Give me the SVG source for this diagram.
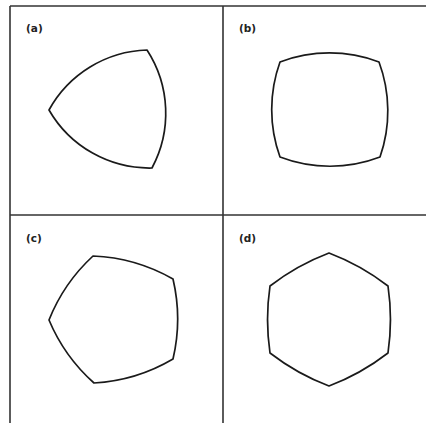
<svg xmlns="http://www.w3.org/2000/svg" width="426" height="423" viewBox="0 0 426 423">
<style>
.frame{stroke:#333;stroke-width:1.6;fill:none}
.shape{stroke:#1a1a1a;stroke-width:1.7;fill:none;stroke-linejoin:round}
.lbl{font-family:"DejaVu Sans",sans-serif;font-size:10.5px;font-weight:bold;fill:#222}
</style>
<rect width="426" height="423" fill="#fff"/>
<g id="frame">
<line class="frame" x1="10" y1="6" x2="426" y2="6"/>
<line class="frame" x1="10" y1="6" x2="10" y2="423"/>
<line class="frame" x1="223" y1="6" x2="223" y2="423"/>
<line class="frame" x1="10" y1="215" x2="426" y2="215"/>
</g>
<g id="panel-a">
<text class="lbl" x="26" y="32">(a)</text>
<path class="shape" d="M49,110 A116,116 0 0 1 147,50 A116,116 0 0 1 152,168 A116,116 0 0 1 49,110 Z"/>
</g>
<g id="panel-b">
<text class="lbl" x="239" y="32">(b)</text>
<path class="shape" d="M280,62 A140,140 0 0 1 379,62 A140,140 0 0 1 380,157 A140,140 0 0 1 280,157 A140,140 0 0 1 280,62 Z"/>
</g>
<g id="panel-c">
<text class="lbl" x="26" y="242">(c)</text>
<path class="shape" d="M49,320 A175,175 0 0 1 93,256 A175,175 0 0 1 173,279 A175,175 0 0 1 173,359 A175,175 0 0 1 94,383 A175,175 0 0 1 49,320 Z"/>
</g>
<g id="panel-d">
<text class="lbl" x="239" y="242">(d)</text>
<path class="shape" d="M329,253 A230,230 0 0 1 388,286 A230,230 0 0 1 388,353 A230,230 0 0 1 329,386 A230,230 0 0 1 270,353 A230,230 0 0 1 270,286 A230,230 0 0 1 329,253 Z"/>
</g>
</svg>
